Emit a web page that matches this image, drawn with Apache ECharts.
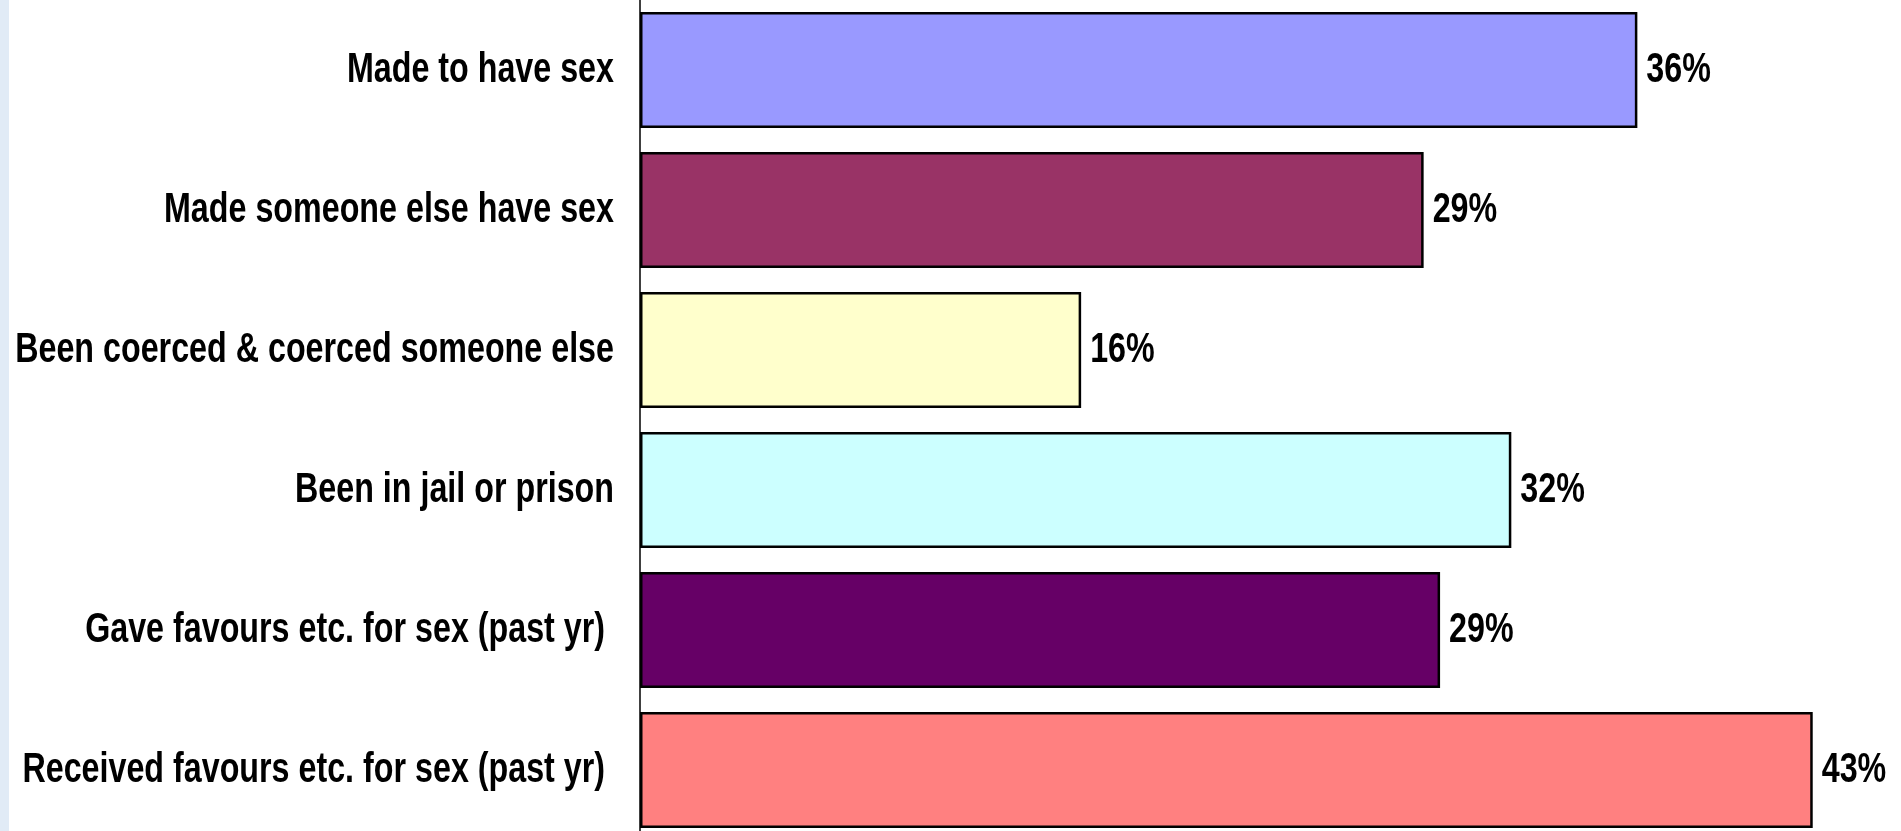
<!DOCTYPE html>
<html>
<head>
<meta charset="utf-8">
<script src="https://cdn.jsdelivr.net/npm/echarts@6/dist/echarts.min.js"></script>
<style>
    html, body { margin: 0; padding: 0; background: #fff; }
    #wrap { display: flex; width: 1901px; height: 831px; }
    #strip { width: 9px; height: 831px; background: #e1ebf6; }
    #bars { width: 1892px; height: 831px; }
</style>
</head>
<body>
<div id="wrap">
    <div id="strip"></div>
    <div id="bars"></div>
</div>
<script>
// categories, top to bottom
var categories = [
    'Made to have sex',
    'Made someone else have sex',
    'Been coerced & coerced someone else',
    'Been in jail or prison',
    'Gave favours etc. for sex (past yr) ',
    'Received favours etc. for sex (past yr) '
];
// percent values
var values = [36.4, 28.6, 16.1, 31.8, 29.2, 42.8];
var barColors = ['#9999ff', '#993366', '#ffffcc', '#ccffff', '#660066', '#ff8080'];

// no narrow font installed, so squeeze the bold sans horizontally
var FONT = 'bold 42px "Liberation Sans", Arial, sans-serif';
var SQUEEZE = 0.768;

var myChart = echarts.init(document.getElementById('bars'));

var barData = [];
var labelData = [];
for (var i = 0; i < values.length; i++) {
    barData.push({
        value: values[i],
        itemStyle: { color: barColors[i] }
    });
    labelData.push([values[i], i]);
}

function renderLabels(params, api) {
    var v = api.value(0);
    var idx = api.value(1);
    var base = api.coord([0, idx]);
    var end = api.coord([v, idx]);
    return {
        type: 'group',
        children: [{
            type: 'text',
            x: base[0] - 26,
            y: base[1],
            scaleX: SQUEEZE,
            style: {
                text: categories[idx],
                font: FONT,
                fill: '#000',
                align: 'right',
                verticalAlign: 'middle'
            }
        }, {
            type: 'text',
            x: end[0] + 9,
            y: end[1],
            scaleX: SQUEEZE,
            style: {
                text: Math.round(v) + '%',
                font: FONT,
                fill: '#000',
                align: 'left',
                verticalAlign: 'middle'
            }
        }]
    };
}

myChart.setOption({
    animation: false,
    grid: {
        left: 631,
        top: 0,
        width: 1233,
        height: 840,
        outerBoundsMode: 'none'
    },
    xAxis: {
        type: 'value',
        min: 0,
        max: 45,
        show: false,
        splitLine: { show: false }
    },
    yAxis: {
        type: 'category',
        inverse: true,
        data: categories,
        axisTick: { show: false },
        axisLine: { show: true, lineStyle: { color: '#000', width: 1.5 } },
        axisLabel: { show: false }
    },
    series: [{
        type: 'bar',
        barWidth: 116,
        data: barData,
        itemStyle: {
            borderColor: '#000',
            borderWidth: 2.5
        }
    }, {
        type: 'custom',
        clip: false,
        silent: true,
        z: 10,
        renderItem: renderLabels,
        encode: { x: 0, y: 1 },
        data: labelData
    }]
});
</script>
</body>
</html>
